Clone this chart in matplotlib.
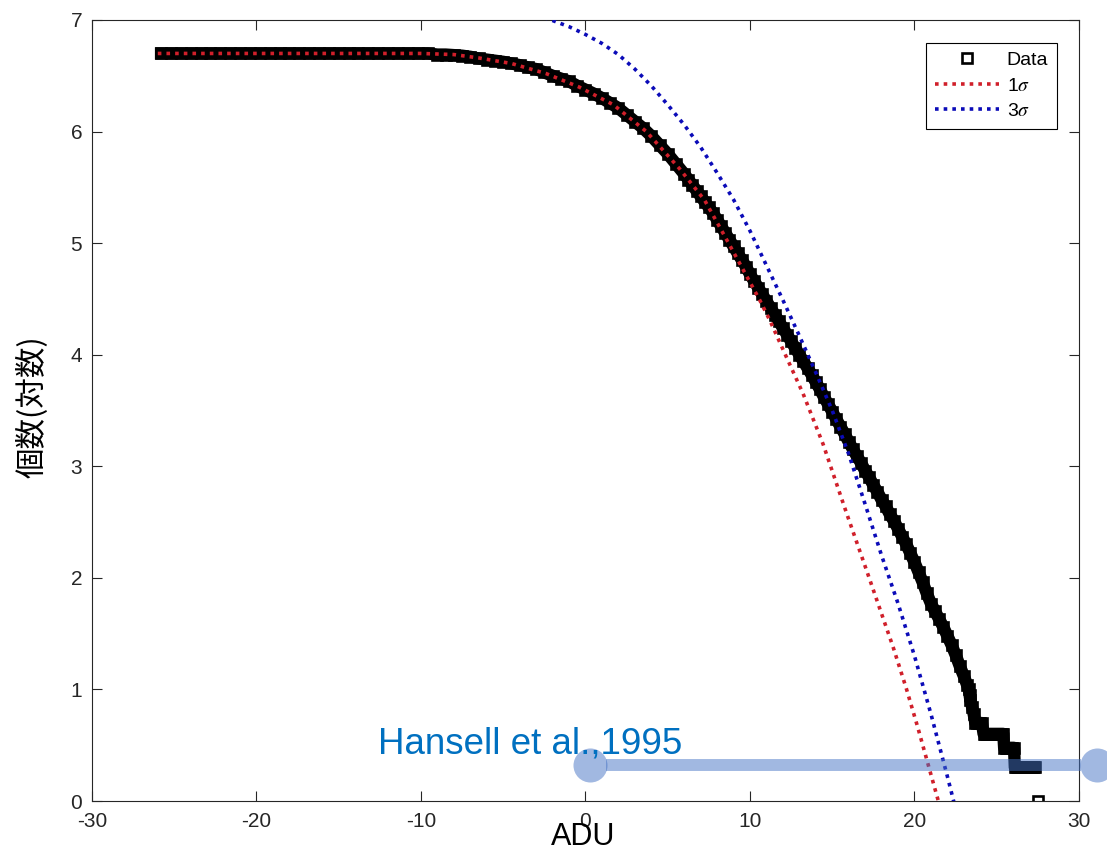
import matplotlib
matplotlib.use('Agg')
import matplotlib.pyplot as plt

plt.rcParams['font.family'] = ['Liberation Sans', 'DejaVu Sans']
plt.rcParams['mathtext.fontset'] = 'stix'
plt.rcParams['axes.unicode_minus'] = False

# data: log10 of cumulative counts vs ADU
data_x = [-25.8, -25.2, -24.6, -24.0, -23.4, -22.8, -22.2, -21.6, -21.0, -20.4,
          -19.8, -19.2, -18.6, -18.0, -17.4, -16.8, -16.2, -15.6, -15.0, -14.4,
          -13.8, -13.2, -12.6, -12.0, -11.4, -10.8, -10.2, -9.6, -9.0,
          -8.5, -8.0, -7.5, -7.0, -6.5, -6.0, -5.5, -5.0, -4.5, -4.0, -3.5, -3.0,
          -2.5, -2.0, -1.5, -1.0, -0.5, 0.0, 0.5, 1.0, 1.5, 2.0, 2.5, 3.0, 3.5,
          4.0, 4.5, 5.0, 5.5, 6.0,
          6.25, 6.5, 6.75, 7.0, 7.25, 7.5, 7.75, 8.0, 8.25, 8.5, 8.75, 9.0, 9.25,
          9.5, 9.75, 10.0, 10.25, 10.5, 10.75, 11.0, 11.25, 11.5, 11.75, 12.0,
          12.25, 12.5, 12.75, 13.0, 13.25, 13.5, 13.75, 14.0, 14.25, 14.5, 14.75,
          15.0, 15.25, 15.5, 15.75, 16.0, 16.25, 16.5, 16.75, 17.0, 17.25, 17.5,
          17.75, 18.0, 18.25, 18.5, 18.75, 19.0, 19.25, 19.5, 19.75, 20.0, 20.25,
          20.5, 20.75, 21.0, 21.25, 21.5, 21.75, 22.0, 22.25, 22.5, 22.75, 23.0,
          23.2, 23.3, 23.35, 23.4, 23.5, 23.6,
          23.7, 23.8, 23.9, 24.0, 24.1,
          24.2, 24.3, 24.4, 24.5, 24.6, 24.7, 24.8, 24.9, 25.0, 25.1, 25.2, 25.3, 25.4,
          25.45, 25.55, 25.65, 25.75, 25.85, 25.95, 26.05,
          26.1, 26.2, 26.3, 26.4, 26.5, 26.6, 26.7, 26.8, 26.9, 27.0, 27.1, 27.2, 27.3,
          27.5]
data_y = [6.70, 6.70, 6.70, 6.70, 6.70, 6.70, 6.70, 6.70, 6.70, 6.70,
          6.70, 6.70, 6.70, 6.70, 6.70, 6.70, 6.70, 6.70, 6.70, 6.70,
          6.70, 6.70, 6.70, 6.70, 6.70, 6.70, 6.70, 6.70, 6.69,
          6.69, 6.685, 6.68, 6.67, 6.655, 6.645, 6.635, 6.625, 6.61, 6.595, 6.575, 6.56,
          6.53, 6.50, 6.475, 6.45, 6.41, 6.375, 6.34, 6.30, 6.255, 6.21, 6.15, 6.09, 6.03,
          5.96, 5.88, 5.80, 5.71, 5.62,
          5.57, 5.52, 5.47, 5.42, 5.37, 5.32, 5.27, 5.21, 5.15, 5.09, 5.03, 4.97, 4.91,
          4.85, 4.79, 4.72, 4.66, 4.60, 4.54, 4.48, 4.42, 4.36, 4.30, 4.24,
          4.18, 4.12, 4.06, 4.00, 3.94, 3.88, 3.82, 3.755, 3.69, 3.62, 3.555,
          3.49, 3.42, 3.355, 3.29, 3.22, 3.155, 3.09, 3.03, 2.96, 2.90, 2.83,
          2.77, 2.70, 2.64, 2.57, 2.51, 2.44, 2.37, 2.30, 2.22, 2.14, 2.05,
          1.96, 1.86, 1.77, 1.70, 1.63, 1.56, 1.48, 1.40, 1.31, 1.21, 1.12,
          1.04, 1.0, 0.954, 0.903, 0.845, 0.778,
          0.699, 0.699, 0.699, 0.699, 0.699,
          0.602, 0.602, 0.602, 0.602, 0.602, 0.602, 0.602, 0.602, 0.602, 0.602, 0.602, 0.602, 0.602,
          0.477, 0.477, 0.477, 0.477, 0.477, 0.477, 0.477,
          0.301, 0.301, 0.301, 0.301, 0.301, 0.301, 0.301, 0.301, 0.301, 0.301, 0.301, 0.301, 0.301,
          0.0]

# 1 sigma fit
s1_x = [-26.0, -20.0, -14.0, -10.0, -8.0, -6.5, -4.5, -2.4, -0.4, 1.7, 3.7, 5.7,
        7.24, 8.36, 9.48, 10.59, 11.2, 12.21, 13.23, 14.44, 15.87, 17.08, 17.9,
        18.7, 19.5, 20.2, 20.9, 21.45, 21.7]
s1_y = [6.70, 6.70, 6.70, 6.70, 6.69, 6.66, 6.61, 6.52, 6.40, 6.24, 6.00, 5.67,
        5.385, 5.09, 4.79, 4.49, 4.31, 3.98, 3.65, 3.20, 2.58, 2.07, 1.72,
        1.38, 1.01, 0.66, 0.29, 0.0, -0.14]

# 3 sigma fit
s3_x = [-3.0, -2.09, -1.0, 0.0, 1.0, 2.0, 3.0, 4.0, 5.0, 6.0, 7.0, 8.0, 9.0, 10.0,
        11.0, 12.0, 13.0, 14.0, 15.0, 16.0, 17.0, 18.0, 19.0, 20.0, 21.0, 22.0, 22.5]
s3_y = [7.05, 7.0, 6.94, 6.87, 6.79, 6.69, 6.56, 6.41, 6.24, 6.06, 5.86, 5.63, 5.39, 5.11,
        4.80, 4.49, 4.17, 3.84, 3.50, 3.11, 2.66, 2.20, 1.77, 1.30, 0.78, 0.22, -0.07]

ann_x0, ann_x1, ann_y = 0.3, 31.1, 0.325
ann_text = 'Hansell et al.,1995'

fig = plt.figure(figsize=(11.07, 8.5), dpi=100)
ax = fig.add_axes([0.0831, 0.0576, 0.8916, 0.9189])

# dense markers in the original merge into a solid band
ax.plot(data_x[:-1], data_y[:-1], color='black', lw=8.9, zorder=2)
ax.plot(data_x, data_y, 's', mfc='none', mec='black', ms=7, mew=1.9,
        label='Data', zorder=2)
ax.plot(s1_x, s1_y, color='#d01f2a', lw=2.6, ls=(0, (1, 1.4)),
        label='1$\\sigma$', zorder=3)
ax.plot(s3_x, s3_y, color='#0b0bb8', lw=2.6, ls=(0, (1, 1.4)),
        label='3$\\sigma$', zorder=3)

# annotation bar
ann_c = '#4472c4'
ax.plot([ann_x0 + 0.97, ann_x1 - 0.97], [ann_y, ann_y], color=ann_c, alpha=0.5,
        lw=8.6, solid_capstyle='butt', clip_on=False, zorder=4)
ax.plot([ann_x0, ann_x1], [ann_y, ann_y], 'o', color=ann_c, alpha=0.5, ms=24.5,
        mew=0, clip_on=False, zorder=4)
ax.text(-12.6, 0.43, ann_text, color='#0070c0', fontsize=26.5, va='baseline',
        ha='left', zorder=5)

ax.set_xlim(-30, 30)
ax.set_ylim(0, 7)
ax.set_xticks([-30, -20, -10, 0, 10, 20, 30])
ax.set_yticks([0, 1, 2, 3, 4, 5, 6, 7])
ax.tick_params(direction='in', length=7, width=0.8, colors='#262626',
               labelsize=15, top=True, right=True)
ax.tick_params(axis='x', pad=8)
ax.tick_params(axis='y', pad=7)
for sp in ax.spines.values():
    sp.set_color('#262626')
    sp.set_linewidth(0.8)

ax.set_xlabel('ADU', fontsize=22, color='black')
ax.xaxis.set_label_coords(0.4975, -0.027)
ax.set_ylabel('個数(対数)', fontsize=22, color='black',
              family=['Noto Sans CJK JP', 'DejaVu Sans'])
ax.yaxis.set_label_coords(-0.045, 0.505)

leg = ax.legend(loc='upper right', bbox_to_anchor=(0.9777, 0.9706),
                borderaxespad=0, fontsize=14, numpoints=1, handlelength=3.3,
                handletextpad=0.4, labelspacing=0.4, fancybox=False,
                framealpha=1, edgecolor='black', borderpad=0.45)
leg.get_frame().set_linewidth(0.8)

fig.savefig('out.png', dpi=100)
